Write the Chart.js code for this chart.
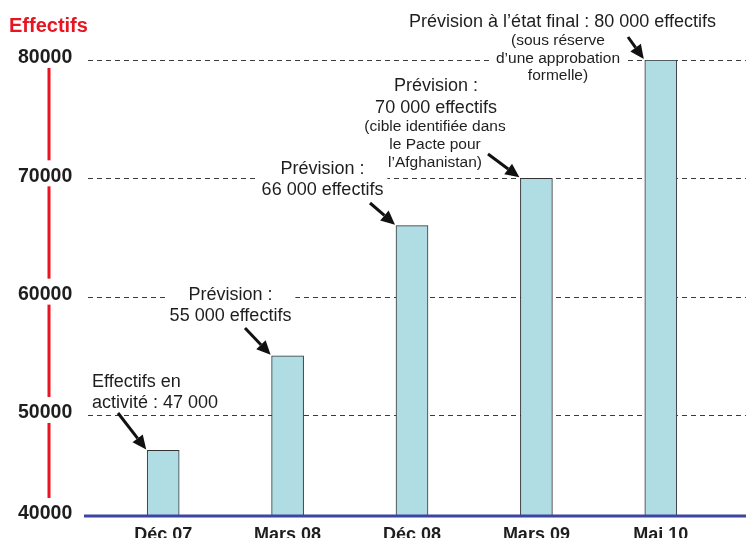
<!DOCTYPE html>
<html lang="fr">
<head>
<meta charset="utf-8">
<title>Effectifs</title>
<script src="https://cdn.jsdelivr.net/npm/chart.js@4.4.1/dist/chart.umd.min.js"></script>
<style>
  html, body { margin: 0; padding: 0; background: #fff; }
  #wrap { width: 746px; height: 538px; }
</style>
</head>
<body>
<div id="wrap"><canvas id="c" width="746" height="538"></canvas></div>
<script>
// ---- data ----
const categories = ['Déc 07', 'Mars 08', 'Déc 08', 'Mars 09', 'Mai 10'];
const effectifs = [47000, 55000, 66000, 70000, 80000];
// the value axis is cut short: its floor carries the "40000" label
const axisFloor = 41460;
const yTickValues = [axisFloor, 50000, 60000, 70000, 80000];
const yTickLabels = ['40000', '50000', '60000', '70000', '80000'];
const axisTitle = 'Effectifs';

// callout texts, one entry per bar, each made of one or more text blocks
const noteTexts = [
  [['Effectifs en', 'activité : 47 000']],
  [['Prévision :', '55 000 effectifs']],
  [['Prévision :', '66 000 effectifs']],
  [['Prévision :', '70 000 effectifs'],
   ['(cible identifiée dans', 'le Pacte pour', 'l\u2019Afghanistan)']],
  [['Prévision à l\u2019état final : 80 000 effectifs'],
   ['(sous réserve', 'd\u2019une approbation', 'formelle)']]
];

// ---- layout and styles ----
const FONT = "'Liberation Sans', Arial, Helvetica, sans-serif";
const TEXT_COLOR = '#1e1e1e';
const noteLayout = [
  { blocks: [{ x: 92, align: 'left', base: 387, lh: 21, size: 18 }], tail: [118, 413] },
  { blocks: [{ x: 230.5, align: 'center', base: 300, lh: 21, size: 18 }], tail: [245, 328] },
  { blocks: [{ x: 322.5, align: 'center', base: 174, lh: 21, size: 18 }], tail: [370, 203] },
  { blocks: [{ x: 436, align: 'center', base: 91, lh: 22, size: 18 },
             { x: 435, align: 'center', base: 131, lh: 18, size: 15.5 }], tail: [488, 154] },
  { blocks: [{ x: 562.5, align: 'center', base: 26.5, lh: 21, size: 18 },
             { x: 558, align: 'center', base: 45, lh: 17.5, size: 15.5 }], tail: [628, 37] }
];

function drawArrow(ctx, x0, y0, x1, y1) {
  const a = Math.atan2(y1 - y0, x1 - x0);
  const L = 14, W = 6.5;
  const bx = x1 - L * Math.cos(a), by = y1 - L * Math.sin(a);
  ctx.save();
  ctx.strokeStyle = '#111';
  ctx.fillStyle = '#111';
  ctx.lineWidth = 3;
  ctx.beginPath();
  ctx.moveTo(x0, y0);
  ctx.lineTo(bx, by);
  ctx.stroke();
  ctx.beginPath();
  ctx.moveTo(x1, y1);
  ctx.lineTo(bx - W * Math.sin(a), by + W * Math.cos(a));
  ctx.lineTo(bx + W * Math.sin(a), by - W * Math.cos(a));
  ctx.closePath();
  ctx.fill();
  ctx.restore();
}

// dashed guide lines, extended a little beyond the plot area
const guideLines = {
  id: 'guideLines',
  beforeDatasetsDraw(chart) {
    const { ctx, scales: { y } } = chart;
    ctx.save();
    ctx.strokeStyle = '#3a3a3a';
    ctx.lineWidth = 1;
    ctx.setLineDash([5, 4]);
    yTickValues.slice(1).forEach(v => {
      const py = Math.round(y.getPixelForValue(v)) + 0.5;
      ctx.beginPath();
      ctx.moveTo(88, py);
      ctx.lineTo(chart.width, py);
      ctx.stroke();
    });
    ctx.restore();
  }
};

// callouts with white backing, arrows pointing at each bar's top-left corner
const callouts = {
  id: 'callouts',
  afterDatasetsDraw(chart) {
    const { ctx, scales: { y } } = chart;
    const meta = chart.getDatasetMeta(0);

    // blue baseline
    const by = y.getPixelForValue(axisFloor);
    ctx.save();
    ctx.strokeStyle = '#3c45a2';
    ctx.lineWidth = 3;
    ctx.beginPath();
    ctx.moveTo(84, by);
    ctx.lineTo(chart.width, by);
    ctx.stroke();
    ctx.restore();

    // white backings first, so no backing hides a neighbouring callout
    const pass = (paint) => noteTexts.forEach((blocks, i) => {
      blocks.forEach((lines, b) => {
        const bl = noteLayout[i].blocks[b];
        ctx.save();
        ctx.font = bl.size + 'px ' + FONT;
        paint(lines, bl);
        ctx.restore();
      });
    });
    pass((lines, bl) => {
      const maxW = Math.max(...lines.map(t => ctx.measureText(t).width));
      const left = bl.align === 'left' ? bl.x : bl.x - maxW / 2;
      const top = bl.base - bl.size * 0.78;
      const bottom = bl.base + (lines.length - 1) * bl.lh + 4;
      ctx.fillStyle = '#fff';
      ctx.fillRect(left - 4, top, maxW + 8, bottom - top);
    });
    pass((lines, bl) => {
      ctx.fillStyle = TEXT_COLOR;
      ctx.textAlign = bl.align;
      ctx.textBaseline = 'alphabetic';
      lines.forEach((t, k) => ctx.fillText(t, bl.x, bl.base + k * bl.lh));
    });

    noteLayout.forEach((lay, i) => {
      const bar = meta.data[i];
      const cx = bar.x - bar.width / 2 - 1;
      const cy = bar.y - 1;
      drawArrow(ctx, lay.tail[0], lay.tail[1], cx, cy);
    });
  },
  afterDraw(chart) {
    const { ctx, scales: { y } } = chart;
    ctx.save();
    // red value-axis line, interrupted at each tick label
    ctx.strokeStyle = '#e8141f';
    ctx.lineWidth = 3;
    const vals = yTickValues.slice().sort((a, b) => b - a);
    for (let k = 0; k < vals.length - 1; k++) {
      const y0 = y.getPixelForValue(vals[k]) + 8;
      const y1 = y.getPixelForValue(vals[k + 1]) - 18;
      ctx.beginPath();
      ctx.moveTo(49, y0);
      ctx.lineTo(49, y1);
      ctx.stroke();
    }
    // axis title
    ctx.fillStyle = '#e8141f';
    ctx.font = 'bold 20px ' + FONT;
    ctx.textAlign = 'left';
    ctx.textBaseline = 'alphabetic';
    ctx.fillText(axisTitle, 9, 32);
    ctx.restore();
  }
};

new Chart(document.getElementById('c'), {
  type: 'bar',
  data: {
    labels: categories,
    datasets: [{
      data: effectifs,
      backgroundColor: '#b0dde3',
      borderColor: '#333',
      borderWidth: 1,
      barThickness: 32
    }]
  },
  options: {
    responsive: false,
    devicePixelRatio: 1,
    animation: false,
    layout: { padding: { top: 60, right: 23, bottom: 0, left: 18 } },
    plugins: { legend: { display: false }, tooltip: { enabled: false } },
    scales: {
      x: {
        grid: { display: false, drawTicks: false },
        border: { display: false },
        ticks: {
          padding: 8,
          maxRotation: 0,
          color: TEXT_COLOR,
          font: { family: FONT, size: 18, weight: 'bold' }
        },
        afterFit(s) { s.height = 22; }
      },
      y: {
        min: axisFloor,
        max: 80000,
        grid: { display: false, drawTicks: false },
        border: { display: false },
        afterBuildTicks(s) { s.ticks = yTickValues.map(v => ({ value: v })); },
        ticks: {
          padding: 0,
          crossAlign: 'far',
          labelOffset: -2,
          color: TEXT_COLOR,
          font: { family: FONT, size: 19.5, weight: 'bold' },
          callback: (v, i) => yTickLabels[i]
        },
        afterFit(s) { s.width = 83; }
      }
    }
  },
  plugins: [guideLines, callouts]
});
</script>
</body>
</html>
